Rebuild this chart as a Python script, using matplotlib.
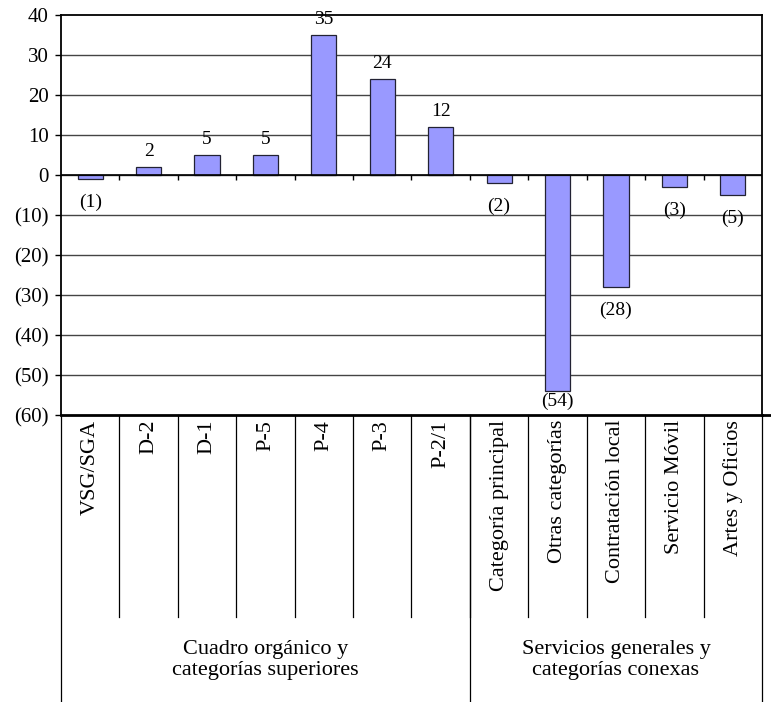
import matplotlib.pyplot as plt
import matplotlib.transforms as mtransforms

categories = ["VSG/SGA", "D-2", "D-1", "P-5", "P-4", "P-3", "P-2/1",
              "Categoría principal", "Otras categorías", "Contratación local",
              "Servicio Móvil", "Artes y Oficios"]
values = [-1, 2, 5, 5, 35, 24, 12, -2, -54, -28, -3, -5]
groups = ["Cuadro orgánico y\ncategorías superiores",
          "Servicios generales y\ncategorías conexas"]
group_sizes = [7, 5]
yticks = [40, 30, 20, 10, 0, -10, -20, -30, -40, -50, -60]
ytick_labels = ["40", "30", "20", "10", "0", "(10)", "(20)", "(30)", "(40)", "(50)", "(60)"]

plt.rcParams["font.family"] = ["Liberation Serif", "DejaVu Serif"]

fig = plt.figure(figsize=(7.71, 7.02), dpi=100)
ax = fig.add_axes([61 / 771, 1 - 415 / 702, 701 / 771, 400 / 702])

x = list(range(len(categories)))
ax.bar(x, values, width=0.43, color="#9999ff", edgecolor="#222233", linewidth=0.9, zorder=3)

ax.set_xlim(-0.5, len(categories) - 0.5)
ax.set_ylim(-60, 40)
ymin = ax.get_ylim()[0]

# data labels, Excel style: negatives in parentheses under the bar,
# kept inside the plot area when there is no room
for xi, v in zip(x, values):
    if v >= 0:
        ax.text(xi, v + 4, str(v), ha="center", va="center", fontsize=14, zorder=5)
    else:
        ypos = max(v - 5.8, ymin + 3.5)
        ax.text(xi, ypos, "(%d)" % abs(v), ha="center", va="center", fontsize=14, zorder=5)

ax.set_yticks(yticks)
ax.set_yticklabels(ytick_labels, fontsize=15)
ax.tick_params(axis="y", length=4, width=1, pad=5)
ax.set_xticks([])
for yv in yticks:
    if -60 < yv < 40:
        ax.axhline(yv, color="#444444", lw=1.0, zorder=1)
ax.axhline(0, color="black", lw=1.2, zorder=4)

# small category ticks on the zero line
ax.vlines([i + 0.5 for i in x[:-1]], -1.3, 0, color="black", lw=1, zorder=4)

for side in ["left", "top", "right"]:
    ax.spines[side].set_linewidth(1.3)
ax.spines["bottom"].set_linewidth(2)

# category table below the plot
trans = mtransforms.blended_transform_factory(ax.transData, ax.transAxes)
y_cat = -(617 - 415) / 400
y_end = -(702 - 415) / 400
for i, name in enumerate(categories):
    ax.text(i, -0.012, name, rotation=90, ha="center", va="top", fontsize=16,
            transform=trans)
for i in range(len(categories) - 1):
    ax.plot([i + 0.5, i + 0.5], [0, y_cat], color="black", lw=0.9,
            transform=trans, clip_on=False)

start = -0.5
bounds = [start]
for size in group_sizes:
    start += size
    bounds.append(start)
for b in bounds:
    ax.plot([b, b], [0, y_end], color="black", lw=0.9, transform=trans, clip_on=False)
for g, name in enumerate(groups):
    mid = (bounds[g] + bounds[g + 1]) / 2
    ax.text(mid, -(660 - 415) / 400, name, ha="center", va="center",
            fontsize=16, linespacing=1.2, transform=trans)

# bottom line runs a bit past the right edge
ax.plot([len(categories) - 0.5, len(categories) - 0.35], [0, 0], color="black",
        lw=2, transform=trans, clip_on=False)

fig.savefig("out.png", dpi=100)
